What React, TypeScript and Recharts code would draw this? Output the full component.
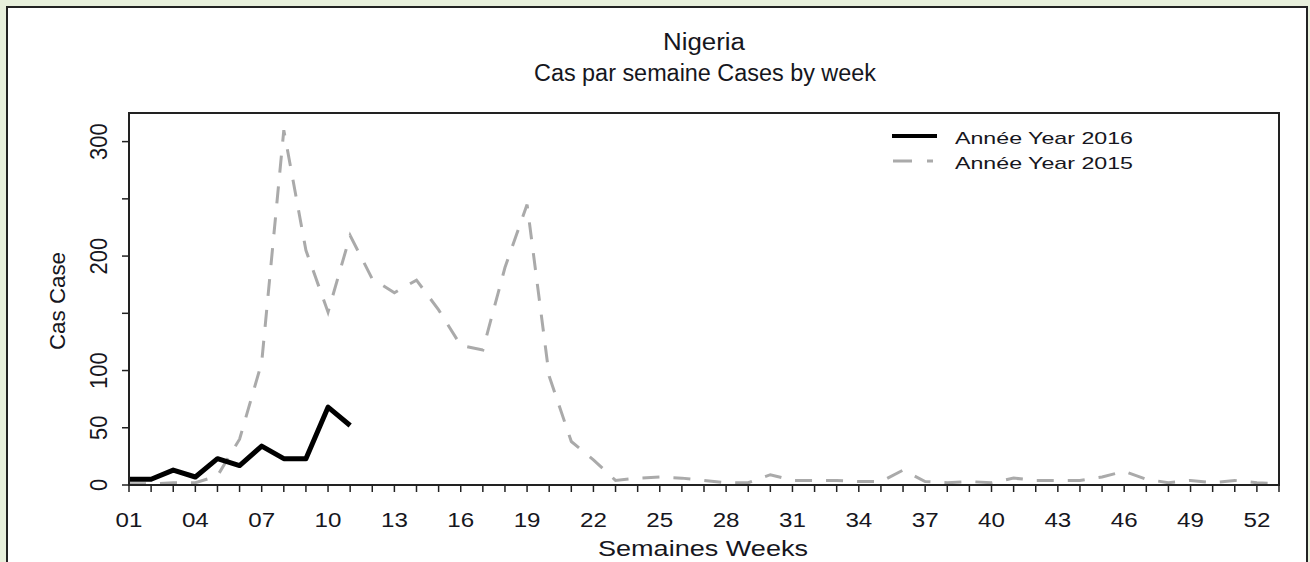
import { Line, LineChart, ReferenceArea, XAxis, YAxis } from 'recharts';

const weeks = [
  1, 2, 3, 4, 5, 6, 7, 8, 9, 10, 11, 12, 13, 14, 15, 16, 17, 18, 19, 20, 21, 22, 23, 24, 25, 26,
  27, 28, 29, 30, 31, 32, 33, 34, 35, 36, 37, 38, 39, 40, 41, 42, 43, 44, 45, 46, 47, 48, 49, 50,
  51, 52, 53,
];

const cases2015 = [
  1, 1, 2, 2, 8, 40, 107, 310, 205, 151, 218, 180, 168, 179, 153, 122, 118, 190, 245, 95, 38, 22,
  4, 6, 7, 6, 4, 2, 2, 9, 4, 4, 4, 3, 3, 13, 3, 2, 3, 2, 6, 4, 4, 4, 7, 12, 5, 2, 4, 2, 4, 2, 1,
];

const cases2016 = [5, 5, 13, 7, 23, 17, 34, 23, 23, 68, 52];

const labelledWeeks = [1, 4, 7, 10, 13, 16, 19, 22, 25, 28, 31, 34, 37, 40, 43, 46, 49, 52];
const yTicks = [0, 50, 100, 150, 200, 250, 300];
const yLabelled = [0, 50, 100, 200, 300];

const data = weeks.map((w, i) => ({
  week: w,
  y2015: cases2015[i],
  y2016: i < cases2016.length ? cases2016[i] : undefined,
}));

const FONT = '"Liberation Sans", Arial, sans-serif';
const INK = '#161620';

function XTick({ x, y, payload }: any) {
  if (!labelledWeeks.includes(payload.value)) return null;
  const txt = String(payload.value).padStart(2, '0');
  return (
    <g transform={`translate(${x},${y + 35}) scale(1.15,1)`}>
      <text textAnchor="middle" fontSize={21} fontFamily={FONT} fill={INK}>
        {txt}
      </text>
    </g>
  );
}

function YTick({ x, y, payload }: any) {
  if (!yLabelled.includes(payload.value)) return null;
  return (
    <g transform={`translate(${x - 15},${y}) scale(1.12,1) rotate(-90)`}>
      <text textAnchor="middle" fontSize={22} fontFamily={FONT} fill={INK}>
        {payload.value}
      </text>
    </g>
  );
}

export default function App() {
  return (
    <div style={{ position: 'relative', width: 1310, height: 562, background: '#e8f0dc', overflow: 'hidden' }}>
      <style>{'html, body { margin: 0; padding: 0; }'}</style>
      <svg width={1310} height={562} style={{ position: 'absolute', left: 0, top: 0 }}>
        <rect x={0} y={0} width={1310} height={562} fill="#e8f0dc" />
        <rect x={7} y={7} width={1300} height={600} fill="#fff" stroke="#222" strokeWidth={2} />
      </svg>
      <div style={{ position: 'absolute', left: 0, top: 0 }}>
        <LineChart width={1310} height={562} data={data} margin={{ top: 113, right: 31, left: 69, bottom: 17 }}>
          <XAxis
            dataKey="week"
            type="number"
            domain={[1, 53]}
            ticks={weeks}
            interval={0}
            height={60}
            tickSize={7}
            tickMargin={0}
            tick={<XTick />}
            axisLine={{ stroke: '#222', strokeWidth: 2 }}
            tickLine={{ stroke: '#222', strokeWidth: 1.5 }}
          />
          <YAxis
            type="number"
            domain={[0, 325]}
            ticks={yTicks}
            interval={0}
            width={60}
            tickSize={7}
            tickMargin={0}
            tick={<YTick />}
            allowDataOverflow
            axisLine={{ stroke: '#222', strokeWidth: 2 }}
            tickLine={{ stroke: '#222', strokeWidth: 1.5 }}
          />
          <ReferenceArea x1={1} x2={53} y1={0} y2={325} fill="none" stroke="#222" strokeWidth={2} ifOverflow="visible" />
          <Line
            dataKey="y2015"
            stroke="#aaaaaa"
            strokeWidth={3}
            strokeDasharray="17 14"
            dot={false}
            activeDot={false}
            type="linear"
            isAnimationActive={false}
          />
          <Line
            dataKey="y2016"
            stroke="#000"
            strokeWidth={5}
            strokeLinejoin="round"
            dot={false}
            activeDot={false}
            type="linear"
            isAnimationActive={false}
          />
        </LineChart>
      </div>
      <svg width={1310} height={562} style={{ position: 'absolute', left: 0, top: 0, pointerEvents: 'none' }}>
        <text x={704} y={50} textAnchor="middle" fontSize={23} fontFamily={FONT} fill={INK} textLength={82} lengthAdjust="spacingAndGlyphs">
          Nigeria
        </text>
        <text x={705} y={81} textAnchor="middle" fontSize={23} fontFamily={FONT} fill={INK} textLength={342} lengthAdjust="spacingAndGlyphs">
          Cas par semaine Cases by week
        </text>
        <text x={703} y={556} textAnchor="middle" fontSize={22} fontFamily={FONT} fill={INK} textLength={210} lengthAdjust="spacingAndGlyphs">
          Semaines Weeks
        </text>
        <text
          transform="translate(65,301) rotate(-90)"
          textAnchor="middle"
          fontSize={22}
          fontFamily={FONT}
          fill={INK}
          textLength={98}
          lengthAdjust="spacingAndGlyphs"
        >
          Cas Case
        </text>
        <line x1={892} x2={937} y1={136} y2={136} stroke="#000" strokeWidth={4} />
        <text x={955} y={144} fontSize={17} fontFamily={FONT} fill={INK} textLength={178} lengthAdjust="spacingAndGlyphs">
          Année Year 2016
        </text>
        <line x1={893} x2={933} y1={161} y2={161} stroke="#aaaaaa" strokeWidth={3} strokeDasharray="19 15" />
        <text x={955} y={169} fontSize={17} fontFamily={FONT} fill={INK} textLength={178} lengthAdjust="spacingAndGlyphs">
          Année Year 2015
        </text>
      </svg>
    </div>
  );
}
